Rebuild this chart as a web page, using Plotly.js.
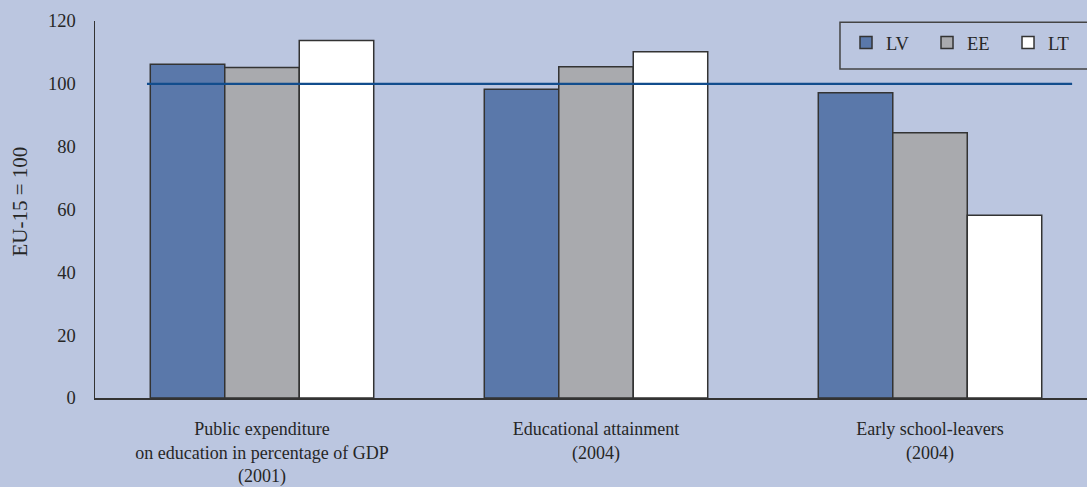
<!DOCTYPE html>
<html>
<head>
<meta charset="utf-8">
<script src="https://cdn.plot.ly/plotly-3.0.1.min.js"></script>
<style>
html,body{margin:0;padding:0;background:#bbc6e0;}
#chart{width:1087px;height:487px;}
</style>
</head>
<body>
<div id="chart"></div>
<script>
var categories = [
  "Public expenditure<br>on education in percentage of GDP<br>(2001)",
  "Educational attainment<br>(2004)",
  "Early school-leavers<br>(2004)"
];
var seriesNames = ["LV", "EE", "LT"];
var valuesLV = [106.2, 98.3, 97.2];
var valuesEE = [105.2, 105.4, 84.4];
var valuesLT = [113.8, 110.2, 58.2];
var referenceValue = 100;
var yTickValues = [0, 20, 40, 60, 80, 100, 120];
var yAxisTitle = "EU-15 = 100";

var colors = ["#5a78aa", "#a9aaae", "#ffffff"];
var allValues = [valuesLV, valuesEE, valuesLT];
var FONT = "Liberation Serif, Times New Roman, serif";
var TXT = "#262626";

var traces = allValues.map(function (vals, i) {
  return {
    type: "bar",
    name: seriesNames[i],
    x: [0, 1, 2],
    y: vals,
    marker: {color: colors[i], line: {color: "#333333", width: 1.5}},
    hoverinfo: "y+name"
  };
});

var layout = {
  width: 1087,
  height: 487,
  paper_bgcolor: "#bbc6e0",
  plot_bgcolor: "#bbc6e0",
  margin: {l: 95, r: 0, t: 21, b: 89, pad: 0, autoexpand: false},
  barmode: "group",
  bargap: 0.331,
  bargroupgap: 0,
  font: {family: FONT, size: 18, color: TXT},
  showlegend: true,
  legend: {
    orientation: "h",
    xref: "container", yref: "container",
    x: 0.7783, xanchor: "left",
    y: 0.951, yanchor: "top",
    bgcolor: "rgba(0,0,0,0)",
    borderwidth: 0,
    font: {family: FONT, size: 18.5, color: TXT},
    entrywidth: 36,
    entrywidthmode: "pixels",
    traceorder: "normal"
  },
  xaxis: {
    range: [-0.5, 2.47],
    tickvals: [0, 1, 2],
    ticktext: categories,
    showline: true,
    linecolor: "#333333",
    linewidth: 1.5,
    showgrid: false,
    zeroline: false,
    ticks: "",
    ticklabelstandoff: 14,
    tickfont: {family: FONT, size: 18, color: TXT},
    fixedrange: true
  },
  yaxis: {
    range: [0, 120],
    tickvals: yTickValues,
    showline: true,
    linecolor: "#333333",
    linewidth: 1.5,
    showgrid: false,
    zeroline: false,
    ticks: "",
    ticklabelstandoff: 14,
    tickfont: {family: FONT, size: 18.5, color: TXT},
    fixedrange: true
  },
  annotations: [
    {
      text: yAxisTitle, textangle: -90,
      xref: "paper", yref: "paper",
      x: -0.0756, y: 0.521, xanchor: "center", yanchor: "middle",
      showarrow: false,
      font: {family: FONT, size: 21, color: TXT}
    }
  ],
  shapes: [
    {
      type: "line", xref: "paper", yref: "y",
      x0: 0.0524, x1: 0.985, y0: referenceValue, y1: referenceValue,
      line: {color: "#124d8d", width: 2.2}
    },
    {
      type: "rect", xref: "paper", yref: "paper",
      x0: 0.751, x1: 1.02, y0: 0.8725, y1: 0.997,
      line: {color: "#444444", width: 1.5},
      fillcolor: "rgba(0,0,0,0)"
    }
  ]
};

Plotly.newPlot("chart", traces, layout, {displayModeBar: false, staticPlot: true});
</script>
</body>
</html>
